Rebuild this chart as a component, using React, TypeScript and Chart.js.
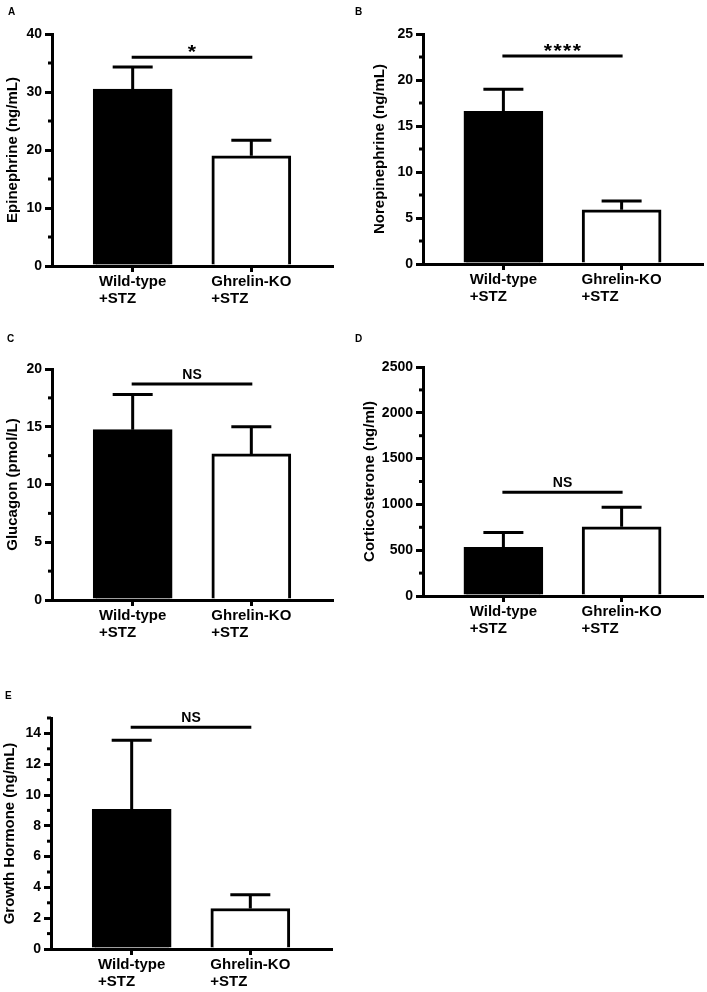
import React, { useEffect, useRef } from 'react';
import { Chart, registerables } from 'chart.js';

Chart.register(...registerables);

const FONT = '"Liberation Sans", Arial, Helvetica, sans-serif';

// ---- data ----
const groups = ['Wild-type', 'Ghrelin-KO'];
const groupSuffix = '+STZ';

const epinephrineMean = [30.5, 19.0];
const epinephrineSem = [3.8, 2.7];
const epinephrineTicks = [0, 10, 20, 30, 40];

const norepinephrineMean = [16.6, 5.9];
const norepinephrineSem = [2.4, 0.95];
const norepinephrineTicks = [0, 5, 10, 15, 20, 25];

const glucagonMean = [14.75, 12.65];
const glucagonSem = [3.05, 2.35];
const glucagonTicks = [0, 5, 10, 15, 20];

const corticosteroneMean = [530, 755];
const corticosteroneSem = [164, 213];
const corticosteroneTicks = [0, 500, 1000, 1500, 2000, 2500];

const growthHormoneMean = [9.07, 2.63];
const growthHormoneSem = [4.49, 0.89];
const growthHormoneTicks = [0, 2, 4, 6, 8, 10, 12, 14];

type Box = { left: number; top: number; width: number; height: number };
type Area = { left: number; top: number; right: number; bottom: number };

type PanelDef = {
  letter: string;
  title: string;
  means: number[];
  sems: number[];
  ticks: number[];
  max: number;
  minorStep: number;
  sigValue: number;
  sigLabel: string;
  titlePad: number;
  box: Box;
  area: Area;
  letterPos: { left: number; top: number };
};

const panels: PanelDef[] = [
  {
    letter: 'A', title: 'Epinephrine (ng/mL)', means: epinephrineMean, sems: epinephrineSem,
    ticks: epinephrineTicks, max: 40, minorStep: 5, sigValue: 36, sigLabel: '*', titlePad: 4,
    box: { left: 0, top: 0, width: 350, height: 315 },
    area: { left: 52, top: 34, right: 332, bottom: 266 },
    letterPos: { left: 8, top: 7 },
  },
  {
    letter: 'B', title: 'Norepinephrine (ng/mL)', means: norepinephrineMean, sems: norepinephrineSem,
    ticks: norepinephrineTicks, max: 25, minorStep: 2.5, sigValue: 22.6, sigLabel: '****', titlePad: 21,
    box: { left: 350, top: 0, width: 357, height: 315 },
    area: { left: 423, top: 34, right: 702, bottom: 264 },
    letterPos: { left: 355, top: 7 },
  },
  {
    letter: 'C', title: 'Glucagon (pmol/L)', means: glucagonMean, sems: glucagonSem,
    ticks: glucagonTicks, max: 20, minorStep: 2.5, sigValue: 18.7, sigLabel: 'NS', titlePad: 4,
    box: { left: 0, top: 320, width: 350, height: 330 },
    area: { left: 52, top: 369, right: 332, bottom: 600 },
    letterPos: { left: 7, top: 334 },
  },
  {
    letter: 'D', title: 'Corticosterone (ng/ml)', means: corticosteroneMean, sems: corticosteroneSem,
    ticks: corticosteroneTicks, max: 2500, minorStep: 250, sigValue: 1132, sigLabel: 'NS', titlePad: 11,
    box: { left: 350, top: 320, width: 357, height: 330 },
    area: { left: 423, top: 367, right: 702, bottom: 596 },
    letterPos: { left: 355, top: 334 },
  },
  {
    letter: 'E', title: 'Growth Hormone (ng/mL)', means: growthHormoneMean, sems: growthHormoneSem,
    ticks: growthHormoneTicks, max: 15, minorStep: 1, sigValue: 14.4, sigLabel: 'NS', titlePad: 1,
    box: { left: 0, top: 680, width: 350, height: 312 },
    area: { left: 51, top: 718, right: 331, bottom: 949 },
    letterPos: { left: 5, top: 691 },
  },
];

function drawStars(ctx: CanvasRenderingContext2D, label: string, cx: number, cy: number) {
  // each asterisk drawn as text, scaled to the reference's squat ink box
  const n = label.length;
  const advance = 9.7;
  const targetW = 8.5;
  const targetH = 7.2;
  ctx.save();
  ctx.font = `bold 20px ${FONT}`;
  ctx.textAlign = 'left';
  ctx.textBaseline = 'alphabetic';
  const m = ctx.measureText('*');
  const inkL = m.actualBoundingBoxLeft;
  const inkR = m.actualBoundingBoxRight;
  const inkA = m.actualBoundingBoxAscent;
  const inkD = m.actualBoundingBoxDescent;
  const w = inkL + inkR || 8;
  const h = inkA + inkD || 8;
  const sx = targetW / w;
  const sy = targetH / h;
  for (let i = 0; i < n; i++) {
    const starCx = cx + (i - (n - 1) / 2) * advance;
    ctx.save();
    ctx.translate(starCx, cy);
    ctx.scale(sx, sy);
    // place ink centre at origin
    const ox = -(inkR - inkL) / 2;
    const oy = (inkA - inkD) / 2;
    ctx.fillText('*', ox, oy);
    ctx.restore();
  }
  ctx.restore();
}

function Panel({ def }: { def: PanelDef }) {
  const ref = useRef<HTMLCanvasElement>(null);

  useEffect(() => {
    const canvas = ref.current;
    if (!canvas) return;
    const { box, area } = def;
    const yWidth = area.left - box.left;
    const padTop = area.top - box.top;
    const padRight = box.left + box.width - area.right;
    const xHeight = box.top + box.height - area.bottom;

    const overlay = {
      id: 'overlay',
      afterDatasetsDraw(chart: any) {
        const ctx = chart.ctx as CanvasRenderingContext2D;
        const xs = chart.scales.x;
        const ys = chart.scales.y;
        const meta = chart.getDatasetMeta(0);
        ctx.save();
        ctx.strokeStyle = '#000';
        ctx.fillStyle = '#000';
        ctx.lineWidth = 3;
        ctx.lineCap = 'butt';
        // error bars (upper only)
        meta.data.forEach((el: any, i: number) => {
          const yBar = ys.getPixelForValue(def.means[i]);
          const yTop = ys.getPixelForValue(def.means[i] + def.sems[i]);
          ctx.beginPath();
          ctx.moveTo(el.x, yBar);
          ctx.lineTo(el.x, yTop);
          ctx.moveTo(el.x - 20, yTop);
          ctx.lineTo(el.x + 20, yTop);
          ctx.stroke();
        });
        // significance line
        const x0 = xs.getPixelForValue(0);
        const x1 = xs.getPixelForValue(1);
        const yS = ys.getPixelForValue(def.sigValue);
        ctx.beginPath();
        ctx.moveTo(x0 - 1, yS);
        ctx.lineTo(x1 + 1, yS);
        ctx.stroke();
        const cx = (x0 + x1) / 2;
        if (def.sigLabel.includes('*')) {
          drawStars(ctx, def.sigLabel, cx, yS - 8.5);
        } else {
          ctx.textAlign = 'center';
          ctx.textBaseline = 'alphabetic';
          ctx.font = `bold 14px ${FONT}`;
          ctx.fillText(def.sigLabel, cx, yS - 5);
        }
        ctx.restore();
      },
      afterDraw(chart: any) {
        const ctx = chart.ctx as CanvasRenderingContext2D;
        const xs = chart.scales.x;
        const ys = chart.scales.y;
        ctx.save();
        ctx.strokeStyle = '#000';
        ctx.fillStyle = '#000';
        ctx.lineWidth = 3;
        // minor ticks
        const axisX = chart.chartArea.left;
        for (let v = def.minorStep; v <= def.max + 1e-9; v += def.minorStep) {
          if (def.ticks.some((t) => Math.abs(t - v) < 1e-9)) continue;
          const py = ys.getPixelForValue(v);
          ctx.beginPath();
          ctx.moveTo(axisX - 4, py);
          ctx.lineTo(axisX, py);
          ctx.stroke();
        }
        // category labels (left-aligned block centred under tick)
        ctx.font = `bold 15px ${FONT}`;
        ctx.textAlign = 'left';
        ctx.textBaseline = 'alphabetic';
        const bottom = chart.chartArea.bottom;
        groups.forEach((g, i) => {
          const cx = xs.getPixelForValue(i);
          const w = Math.max(ctx.measureText(g).width, ctx.measureText(groupSuffix).width);
          const sx = cx - w / 2;
          ctx.fillText(g, sx, bottom + 20);
          ctx.fillText(groupSuffix, sx, bottom + 37);
        });
        ctx.restore();
      },
    };

    const chart = new Chart(canvas, {
      type: 'bar',
      data: {
        datasets: [
          {
            data: def.means.map((m, i) => ({ x: i, y: m })),
            backgroundColor: ['#000000', '#ffffff'],
            borderColor: '#000000',
            borderWidth: 3,
            barThickness: 79,
            borderSkipped: 'start',
          } as any,
        ],
      },
      options: {
        responsive: false,
        animation: false,
        devicePixelRatio: 1,
        layout: { padding: { top: padTop, right: padRight, left: 0, bottom: 0 } },
        plugins: { legend: { display: false }, tooltip: { enabled: false } },
        scales: {
          x: {
            type: 'linear',
            min: -0.68,
            max: 1.68,
            offset: false,
            grid: {
              display: true,
              drawOnChartArea: false,
              drawTicks: true,
              tickLength: 6,
              lineWidth: 3,
              color: '#000',
              offset: false,
            },
            border: { display: true, width: 3, color: '#000', z: 1 },
            ticks: { display: false },
            afterBuildTicks: (s: any) => {
              s.ticks = groups.map((_, i) => ({ value: i }));
            },
            afterFit: (s: any) => {
              s.height = xHeight;
            },
          },
          y: {
            type: 'linear',
            min: 0,
            max: def.max,
            grid: {
              display: true,
              drawOnChartArea: false,
              drawTicks: true,
              tickLength: 7,
              lineWidth: 3,
              color: '#000',
            },
            border: { display: true, width: 3, color: '#000', z: 1 },
            ticks: {
              color: '#000',
              padding: 3,
              font: { family: FONT, size: 14, weight: 'bold' },
              callback: (v: any) => String(v),
            },
            afterBuildTicks: (s: any) => {
              s.ticks = def.ticks.map((v) => ({ value: v }));
            },
            afterFit: (s: any) => {
              s.width = yWidth;
            },
            title: {
              display: true,
              text: def.title,
              color: '#000',
              font: { family: FONT, size: 15, weight: 'bold' },
              padding: { top: def.titlePad, bottom: 0 },
            },
          },
        },
      } as any,
      plugins: [overlay],
    });
    return () => chart.destroy();
  }, [def]);

  return (
    <canvas
      ref={ref}
      width={def.box.width}
      height={def.box.height}
      style={{
        position: 'absolute',
        left: def.box.left,
        top: def.box.top,
        width: def.box.width,
        height: def.box.height,
      }}
    />
  );
}

export default function App() {
  return (
    <div style={{ position: 'absolute', left: 0, top: 0, width: 707, height: 992, background: '#fff' }}>
      {panels.map((p) => (
        <Panel key={p.letter} def={p} />
      ))}
      {panels.map((p) => (
        <div
          key={'l' + p.letter}
          style={{
            position: 'absolute',
            left: p.letterPos.left,
            top: p.letterPos.top,
            fontFamily: FONT,
            fontWeight: 'bold',
            fontSize: 10,
            lineHeight: '10px',
            color: '#000',
            zIndex: 2,
          }}
        >
          {p.letter}
        </div>
      ))}
    </div>
  );
}
